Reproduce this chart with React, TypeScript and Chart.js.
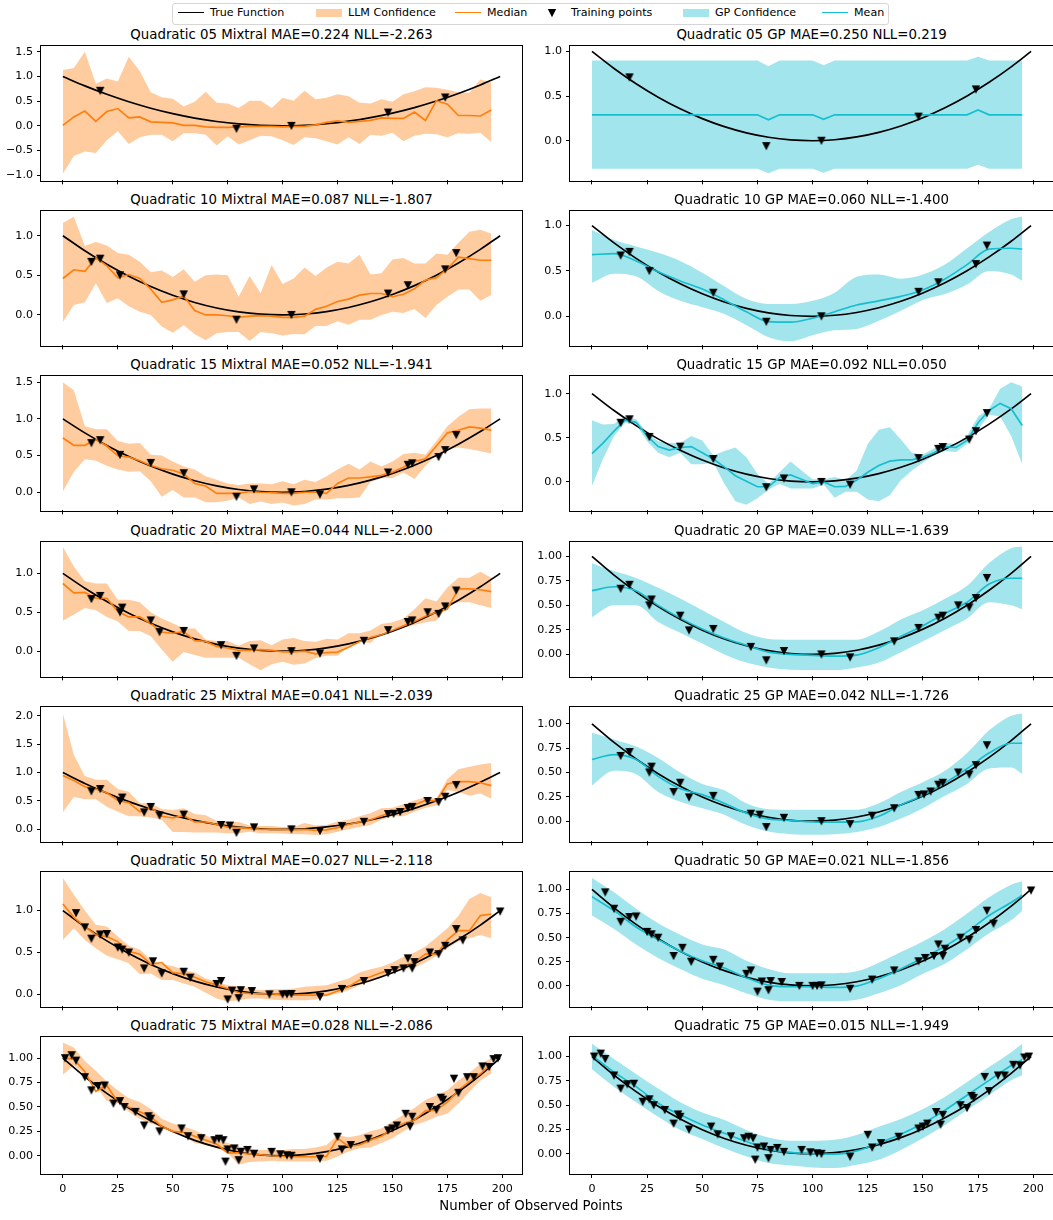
import React, { useEffect, useRef } from "react";
import { Chart, registerables } from "chart.js";

Chart.register(...registerables);

// ---------------- data ----------------
const X_GRID = [0, 5, 10, 15, 20, 25, 30, 35, 40, 45, 50, 55, 60, 65, 70, 75, 80, 85, 90, 95, 100, 105, 110, 115, 120, 125, 130, 135, 140, 145, 150, 155, 160, 165, 170, 175, 180, 185, 190, 195];
const X_GP = [0, 10, 20, 30, 40, 50, 60, 70, 80, 90, 100, 110, 120, 130, 140, 150, 160, 170, 180, 190, 195];
const X_TICKS = [0, 25, 50, 75, 100, 125, 150, 175, 200];

const TRUE_X = [0, 10, 20, 30, 40, 50, 60, 70, 80, 90, 100, 110, 120, 130, 140, 150, 160, 170, 180, 190, 199];
const TRUE_Y = [1.0, 0.8091, 0.6384, 0.4879, 0.3576, 0.2475, 0.1576, 0.0879, 0.0384, 0.0091, 0.0, 0.0111, 0.0424, 0.094, 0.1657, 0.2576, 0.3697, 0.502, 0.6546, 0.8273, 1.0];

const TITLES = [
  "Quadratic 05 Mixtral MAE=0.224 NLL=-2.263", "Quadratic 05 GP MAE=0.250 NLL=0.219",
  "Quadratic 10 Mixtral MAE=0.087 NLL=-1.807", "Quadratic 10 GP MAE=0.060 NLL=-1.400",
  "Quadratic 15 Mixtral MAE=0.052 NLL=-1.941", "Quadratic 15 GP MAE=0.092 NLL=0.050",
  "Quadratic 20 Mixtral MAE=0.044 NLL=-2.000", "Quadratic 20 GP MAE=0.039 NLL=-1.639",
  "Quadratic 25 Mixtral MAE=0.041 NLL=-2.039", "Quadratic 25 GP MAE=0.042 NLL=-1.726",
  "Quadratic 50 Mixtral MAE=0.027 NLL=-2.118", "Quadratic 50 GP MAE=0.021 NLL=-1.856",
  "Quadratic 75 Mixtral MAE=0.028 NLL=-2.086", "Quadratic 75 GP MAE=0.015 NLL=-1.949",
];

// training points
const PTS05_X = [17, 79, 104, 148, 174];
const PTS05_Y = [0.71, -0.06, 0.0, 0.27, 0.575];
const PTS10_X = [13, 17, 26, 55, 79, 104, 148, 157, 174, 179];
const PTS10_Y = [0.67, 0.71, 0.5, 0.26, -0.06, 0.0, 0.27, 0.375, 0.575, 0.78];
const PTS15_X = [13, 17, 26, 40, 55, 79, 87, 104, 117, 148, 157, 159, 171, 174, 179];
const PTS15_Y = [0.67, 0.71, 0.51, 0.4, 0.26, -0.06, 0.04, 0.0, -0.03, 0.27, 0.375, 0.395, 0.48, 0.575, 0.78];
const PTS20_X = [13, 17, 26, 27, 40, 44, 55, 72, 79, 87, 104, 117, 137, 148, 157, 159, 166, 171, 174, 179];
const PTS20_Y = [0.67, 0.71, 0.5, 0.56, 0.395, 0.245, 0.26, 0.077, -0.06, 0.035, 0.0, -0.03, 0.133, 0.27, 0.375, 0.395, 0.5, 0.48, 0.575, 0.78];
const PTS25_X = [13, 17, 26, 27, 37, 40, 44, 55, 72, 76, 79, 87, 104, 117, 127, 137, 148, 150.5, 153.5, 157, 159, 166, 171, 174, 179];
const PTS25_Y = [0.67, 0.71, 0.5, 0.56, 0.3, 0.395, 0.245, 0.26, 0.077, 0.067, -0.06, 0.035, 0.0, -0.03, 0.057, 0.133, 0.27, 0.275, 0.305, 0.375, 0.395, 0.5, 0.48, 0.575, 0.78];
const PTS50_X = [6, 10, 13, 17, 20, 25, 27, 30, 37, 41, 45, 55, 58, 70, 72, 75, 77, 80, 81, 86, 94, 100, 102, 104, 117, 127, 137, 148, 151, 155, 157, 159, 160, 167, 171, 174, 179, 182, 199];
const PTS50_Y = [0.97, 0.8, 0.665, 0.715, 0.72, 0.56, 0.535, 0.5, 0.31, 0.395, 0.25, 0.27, 0.2, 0.125, 0.16, -0.06, 0.045, -0.045, 0.05, 0.04, 0.0, 0.0, 0.0, 0.005, -0.03, 0.065, 0.16, 0.255, 0.29, 0.31, 0.43, 0.31, 0.385, 0.5, 0.48, 0.58, 0.78, 0.645, 0.99];
const PTS75_X = [1, 4, 6, 10, 13, 16, 19, 23, 26, 28, 33, 37, 39, 40, 44, 54, 57, 63, 69, 71, 73, 74, 75, 78, 80, 81, 84, 87, 95, 99, 102, 104, 117, 125, 127, 131, 139, 148, 150, 152, 156, 158, 159, 167, 170, 172, 173, 178, 180, 184, 187, 191, 194, 196, 198];
const PTS75_Y = [1.0, 1.03, 0.975, 0.805, 0.67, 0.715, 0.72, 0.535, 0.56, 0.5, 0.45, 0.31, 0.405, 0.38, 0.25, 0.28, 0.2, 0.18, 0.16, 0.175, 0.16, -0.06, 0.065, 0.075, -0.045, 0.04, 0.06, 0.02, 0.04, 0.015, 0.005, 0.0, -0.03, 0.195, 0.065, 0.11, 0.175, 0.26, 0.28, 0.31, 0.43, 0.3, 0.4, 0.5, 0.47, 0.595, 0.575, 0.79, 0.645, 0.805, 0.805, 0.915, 0.91, 0.99, 1.0];

// LLM (Mixtral) predictions on X_GRID
const MIX05_HI = [1.13, 1.17, 1.5, 0.85, 0.96, 0.9, 1.4, 1.11, 0.68, 0.58, 0.55, 0.39, 0.49, 0.69, 0.47, 0.45, 0.36, 0.51, 0.51, 0.36, 0.57, 0.51, 0.71, 0.54, 0.57, 0.64, 0.6, 0.47, 0.45, 0.54, 0.49, 0.64, 0.7, 0.78, 0.77, 0.73, 0.68, 0.67, 0.94, 0.88];
const MIX05_LO = [-0.97, -0.61, -0.52, -0.55, -0.29, -0.11, -0.37, -0.23, -0.18, -0.18, -0.31, -0.15, -0.15, -0.18, -0.4, -0.21, -0.38, -0.29, -0.2, -0.21, -0.29, -0.39, -0.23, -0.25, -0.31, -0.38, -0.23, -0.37, -0.18, -0.2, -0.14, -0.31, -0.2, -0.16, -0.17, -0.23, -0.15, -0.16, -0.14, -0.33];
const MIX05_MED = [0.01, 0.18, 0.3, 0.09, 0.29, 0.35, 0.16, 0.18, 0.08, 0.07, 0.06, 0.01, 0.01, -0.02, -0.03, -0.03, -0.02, -0.01, -0.01, -0.01, -0.02, -0.01, -0.01, 0.02, 0.07, 0.1, 0.07, 0.09, 0.11, 0.16, 0.15, 0.15, 0.28, 0.11, 0.51, 0.44, 0.21, 0.21, 0.2, 0.32];

const MIX10_HI = [1.16, 1.24, 0.87, 0.92, 0.875, 0.78, 0.76, 0.67, 0.54, 0.56, 0.48, 0.575, 0.42, 0.5, 0.51, 0.5, 0.23, 0.49, 0.275, 0.63, 0.39, 0.46, 0.6, 0.49, 0.6, 0.67, 0.65, 0.76, 0.51, 0.525, 0.7, 0.72, 0.65, 0.65, 0.775, 0.76, 0.91, 1.05, 1.075, 1.025];
const MIX10_LO = [-0.09, 0.125, 0.16, 0.4, 0.15, 0.21, 0.11, 0.04, 0.0, -0.145, -0.225, -0.13, -0.245, -0.32, -0.23, -0.215, -0.215, -0.33, -0.215, -0.23, -0.26, -0.24, -0.245, -0.14, -0.14, -0.08, -0.125, -0.06, -0.06, 0.0, 0.04, 0.025, 0.075, -0.04, 0.125, 0.23, 0.32, 0.32, 0.18, 0.25];
const MIX10_MED = [0.46, 0.57, 0.55, 0.72, 0.62, 0.47, 0.51, 0.46, 0.325, 0.16, 0.19, 0.24, 0.055, 0.0, 0.0, -0.01, -0.03, -0.015, -0.01, -0.015, -0.03, -0.03, -0.015, 0.07, 0.11, 0.17, 0.2, 0.25, 0.27, 0.27, 0.23, 0.26, 0.33, 0.44, 0.47, 0.58, 0.73, 0.71, 0.69, 0.69];

const MIX15_HI = [1.5, 1.39, 0.9, 0.86, 0.86, 0.7, 0.66, 0.67, 0.51, 0.5, 0.42, 0.35, 0.31, 0.22, 0.17, 0.12, 0.1, 0.12, 0.12, 0.11, 0.15, 0.11, 0.17, 0.14, 0.22, 0.31, 0.39, 0.31, 0.42, 0.35, 0.42, 0.52, 0.54, 0.51, 0.7, 0.9, 1.03, 1.13, 1.14, 1.14];
const MIX15_LO = [0.01, 0.28, 0.45, 0.43, 0.36, 0.31, 0.28, 0.285, 0.15, -0.06, 0.03, -0.07, -0.07, -0.135, -0.135, -0.115, -0.07, -0.16, -0.125, -0.16, -0.14, -0.18, -0.16, -0.1, -0.1, -0.08, -0.08, -0.07, 0.14, 0.19, 0.195, 0.27, 0.18, 0.36, 0.51, 0.59, 0.61, 0.59, 0.56, 0.53];
const MIX15_MED = [0.74, 0.64, 0.64, 0.72, 0.63, 0.5, 0.48, 0.43, 0.365, 0.32, 0.3, 0.25, 0.12, 0.085, -0.015, -0.015, -0.015, 0.01, 0.0, -0.005, -0.015, -0.015, 0.0, 0.0, -0.015, 0.12, 0.195, 0.195, 0.21, 0.23, 0.275, 0.34, 0.42, 0.455, 0.63, 0.81, 0.845, 0.89, 0.875, 0.845];

const MIX20_HI = [1.34, 1.09, 0.9, 0.87, 0.87, 0.66, 0.66, 0.63, 0.5, 0.42, 0.36, 0.29, 0.29, 0.15, 0.13, 0.13, 0.07, 0.13, 0.14, 0.076, 0.15, 0.17, 0.13, 0.12, 0.16, 0.15, 0.23, 0.23, 0.265, 0.35, 0.37, 0.42, 0.54, 0.68, 0.64, 0.82, 0.945, 0.945, 1.02, 0.945];
const MIX20_LO = [0.39, 0.47, 0.555, 0.525, 0.44, 0.38, 0.26, 0.26, 0.19, 0.02, -0.135, -0.01, -0.05, -0.085, -0.085, -0.085, -0.085, -0.17, -0.245, -0.17, -0.135, -0.175, -0.16, -0.09, -0.06, -0.06, 0.06, 0.125, 0.105, 0.23, 0.29, 0.3, 0.335, 0.37, 0.39, 0.575, 0.63, 0.63, 0.59, 0.555];
const MIX20_MED = [0.87, 0.75, 0.755, 0.68, 0.68, 0.51, 0.44, 0.44, 0.355, 0.245, 0.23, 0.25, 0.135, 0.125, 0.06, 0.04, 0.01, 0.01, 0.02, 0.01, -0.01, -0.01, 0.0, -0.035, -0.02, -0.012, 0.05, 0.12, 0.175, 0.21, 0.27, 0.325, 0.38, 0.45, 0.5, 0.54, 0.8, 0.8, 0.79, 0.765];

const MIX25_HI = [2.04, 1.31, 0.94, 0.875, 0.875, 0.71, 0.66, 0.46, 0.46, 0.36, 0.34, 0.37, 0.27, 0.25, 0.15, 0.13, 0.13, 0.07, 0.06, 0.06, 0.04, 0.04, 0.11, 0.07, 0.075, 0.14, 0.17, 0.23, 0.285, 0.37, 0.38, 0.44, 0.51, 0.57, 0.54, 0.885, 1.06, 1.1, 1.14, 1.17];
const MIX25_LO = [0.3, 0.57, 0.53, 0.53, 0.4, 0.31, 0.23, 0.23, 0.21, 0.17, -0.045, -0.045, -0.057, -0.057, -0.057, -0.07, -0.07, -0.04, -0.07, -0.07, -0.075, -0.085, -0.085, -0.1, -0.085, -0.04, 0.0, 0.04, 0.075, 0.17, 0.23, 0.23, 0.31, 0.38, 0.42, 0.69, 0.66, 0.59, 0.63, 0.54];
const MIX25_MED = [0.95, 0.86, 0.75, 0.71, 0.645, 0.51, 0.47, 0.31, 0.39, 0.23, 0.2, 0.245, 0.13, 0.13, 0.085, 0.04, 0.03, 0.017, 0.0, 0.0, 0.0, -0.01, 0.0, -0.017, -0.01, 0.03, 0.085, 0.13, 0.17, 0.24, 0.3, 0.355, 0.43, 0.51, 0.5, 0.8, 0.84, 0.84, 0.82, 0.77];

const MIX50_HI = [1.39, 1.19, 1.0, 0.83, 0.81, 0.69, 0.58, 0.535, 0.41, 0.36, 0.34, 0.29, 0.26, 0.19, 0.15, 0.11, 0.09, 0.07, 0.05, 0.06, 0.06, 0.07, 0.09, 0.1, 0.11, 0.15, 0.19, 0.26, 0.3, 0.33, 0.38, 0.45, 0.5, 0.57, 0.68, 0.79, 0.94, 1.14, 1.21, 1.16];
const MIX50_LO = [0.65, 0.79, 0.65, 0.55, 0.46, 0.42, 0.37, 0.24, 0.25, 0.17, 0.17, 0.13, 0.09, 0.02, -0.05, -0.085, -0.07, -0.05, -0.05, -0.06, -0.07, -0.07, -0.07, -0.06, -0.02, 0.01, 0.05, 0.11, 0.15, 0.21, 0.28, 0.3, 0.32, 0.38, 0.46, 0.55, 0.63, 0.67, 0.71, 0.67];
const MIX50_MED = [1.08, 0.92, 0.81, 0.71, 0.69, 0.63, 0.515, 0.48, 0.36, 0.38, 0.26, 0.245, 0.205, 0.15, 0.11, 0.07, 0.02, 0.01, 0.005, 0.005, 0.0, -0.01, -0.01, -0.01, -0.01, 0.04, 0.09, 0.17, 0.21, 0.26, 0.3, 0.34, 0.38, 0.48, 0.48, 0.65, 0.76, 0.76, 0.94, 0.96];

const MIX75_HI = [1.16, 1.11, 0.97, 0.87, 0.76, 0.67, 0.59, 0.55, 0.48, 0.38, 0.33, 0.3, 0.26, 0.21, 0.16, 0.13, 0.095, 0.078, 0.06, 0.06, 0.06, 0.068, 0.07, 0.085, 0.11, 0.21, 0.19, 0.21, 0.25, 0.28, 0.35, 0.42, 0.49, 0.57, 0.62, 0.67, 0.77, 0.85, 0.94, 1.0];
const MIX75_LO = [0.83, 0.925, 0.83, 0.72, 0.56, 0.55, 0.45, 0.38, 0.33, 0.29, 0.25, 0.2, 0.13, 0.11, 0.078, 0.027, -0.09, -0.065, -0.058, -0.05, -0.058, -0.058, -0.058, -0.058, -0.05, -0.007, 0.044, 0.078, 0.085, 0.13, 0.18, 0.25, 0.315, 0.35, 0.4, 0.43, 0.535, 0.655, 0.77, 0.84];
const MIX75_MED = [1.0, 0.99, 0.86, 0.66, 0.72, 0.55, 0.5, 0.45, 0.4, 0.3, 0.25, 0.24, 0.2, 0.16, 0.12, 0.03, 0.03, 0.02, 0.01, 0.0, -0.005, -0.01, -0.01, -0.01, -0.007, 0.18, 0.095, 0.11, 0.16, 0.2, 0.28, 0.33, 0.365, 0.46, 0.47, 0.55, 0.67, 0.76, 0.84, 0.94];

// GP predictions
const GP05_MEAN = [0.29, 0.29, 0.29, 0.29, 0.29, 0.29, 0.29, 0.29, 0.29, 0.29, 0.29, 0.29, 0.29, 0.29, 0.29, 0.29, 0.235, 0.29, 0.29, 0.29, 0.29, 0.24, 0.29, 0.29, 0.29, 0.29, 0.29, 0.29, 0.29, 0.29, 0.29, 0.29, 0.29, 0.29, 0.29, 0.345, 0.29, 0.29, 0.29, 0.29];
const GP05_HI = [0.9, 0.9, 0.9, 0.9, 0.9, 0.9, 0.9, 0.9, 0.9, 0.9, 0.9, 0.9, 0.9, 0.9, 0.9, 0.9, 0.835, 0.9, 0.9, 0.9, 0.9, 0.845, 0.9, 0.9, 0.9, 0.9, 0.9, 0.9, 0.9, 0.9, 0.9, 0.9, 0.9, 0.9, 0.9, 0.94, 0.9, 0.9, 0.9, 0.9];
const GP05_LO = [-0.315, -0.315, -0.315, -0.315, -0.315, -0.315, -0.315, -0.315, -0.315, -0.315, -0.315, -0.315, -0.315, -0.315, -0.315, -0.315, -0.365, -0.315, -0.315, -0.315, -0.315, -0.36, -0.315, -0.315, -0.315, -0.315, -0.315, -0.315, -0.315, -0.315, -0.315, -0.315, -0.315, -0.315, -0.315, -0.27, -0.315, -0.315, -0.315, -0.315];

const GP10_MEAN = [0.68, 0.69, 0.61, 0.49, 0.39, 0.3, 0.18, 0.05, -0.058, -0.065, -0.02, 0.05, 0.125, 0.17, 0.22, 0.29, 0.41, 0.57, 0.74, 0.75, 0.74];
const GP10_HI = [0.95, 0.84, 0.77, 0.7, 0.61, 0.48, 0.33, 0.19, 0.135, 0.135, 0.17, 0.26, 0.435, 0.46, 0.415, 0.46, 0.57, 0.75, 0.93, 1.07, 1.1];
const GP10_LO = [0.37, 0.47, 0.44, 0.28, 0.17, 0.1, 0.025, -0.1, -0.23, -0.275, -0.21, -0.155, -0.14, -0.05, 0.06, 0.18, 0.245, 0.35, 0.5, 0.46, 0.39];

const GP15_MEAN = [0.32, 0.44, 0.575, 0.7, 0.675, 0.52, 0.4, 0.36, 0.39, 0.4, 0.33, 0.26, 0.17, 0.07, 0.007, -0.055, -0.055, 0.05, 0.08, 0.03, -0.02, 0.0, -0.055, -0.05, 0.02, 0.11, 0.185, 0.235, 0.25, 0.25, 0.28, 0.33, 0.4, 0.39, 0.47, 0.67, 0.81, 0.89, 0.83, 0.64];
const GP15_HI = [0.7, 0.65, 0.655, 0.74, 0.71, 0.56, 0.46, 0.44, 0.44, 0.52, 0.47, 0.3, 0.35, 0.39, 0.28, 0.09, -0.02, 0.11, 0.23, 0.13, 0.03, 0.03, 0.055, 0.02, 0.13, 0.43, 0.59, 0.62, 0.48, 0.33, 0.31, 0.38, 0.44, 0.43, 0.52, 0.74, 0.83, 1.055, 1.13, 1.08];
const GP15_LO = [-0.045, 0.26, 0.52, 0.667, 0.65, 0.46, 0.33, 0.28, 0.33, 0.2, 0.2, 0.22, -0.02, -0.22, -0.26, -0.185, -0.09, -0.02, -0.075, -0.075, -0.075, -0.03, -0.18, -0.11, -0.11, -0.2, -0.22, -0.15, 0.02, 0.13, 0.22, 0.3, 0.35, 0.34, 0.43, 0.59, 0.76, 0.74, 0.52, 0.2];

const GP20_MEAN = [0.65, 0.69, 0.65, 0.5, 0.37, 0.26, 0.167, 0.093, 0.023, 0.0, -0.01, -0.017, -0.007, 0.067, 0.183, 0.293, 0.417, 0.533, 0.717, 0.777, 0.777];
const GP20_HI = [0.93, 0.85, 0.78, 0.68, 0.57, 0.45, 0.33, 0.217, 0.157, 0.15, 0.15, 0.15, 0.15, 0.233, 0.357, 0.45, 0.567, 0.7, 0.933, 1.083, 1.1];
const GP20_LO = [0.38, 0.5, 0.5, 0.33, 0.22, 0.11, 0.0, -0.083, -0.133, -0.157, -0.16, -0.16, -0.133, -0.083, 0.023, 0.133, 0.25, 0.367, 0.533, 0.5, 0.46];

const GP25_MEAN = [0.633, 0.683, 0.633, 0.46, 0.333, 0.273, 0.183, 0.083, 0.023, 0.007, -0.007, -0.01, -0.007, 0.05, 0.167, 0.267, 0.393, 0.54, 0.7, 0.8, 0.8];
const GP25_HI = [0.907, 0.84, 0.767, 0.65, 0.5, 0.383, 0.317, 0.183, 0.123, 0.117, 0.117, 0.117, 0.117, 0.183, 0.3, 0.4, 0.517, 0.7, 0.933, 1.083, 1.107];
const GP25_LO = [0.367, 0.517, 0.483, 0.3, 0.2, 0.133, 0.067, -0.04, -0.107, -0.133, -0.14, -0.133, -0.11, -0.06, 0.027, 0.133, 0.26, 0.383, 0.54, 0.55, 0.483];

const GP50_MEAN = [0.926, 0.78, 0.61, 0.48, 0.36, 0.26, 0.185, 0.084, 0.007, -0.01, -0.01, -0.017, -0.003, 0.074, 0.175, 0.29, 0.41, 0.56, 0.73, 0.865, 0.94];
const GP50_HI = [1.12, 0.97, 0.8, 0.65, 0.53, 0.43, 0.377, 0.26, 0.175, 0.13, 0.13, 0.13, 0.15, 0.24, 0.35, 0.46, 0.59, 0.75, 0.92, 1.05, 1.085];
const GP50_LO = [0.73, 0.59, 0.43, 0.29, 0.175, 0.074, 0.007, -0.077, -0.145, -0.16, -0.16, -0.16, -0.145, -0.077, 0.007, 0.125, 0.23, 0.38, 0.545, 0.68, 0.78];

const GP75_MEAN = [1.01, 0.84, 0.69, 0.52, 0.4, 0.296, 0.21, 0.126, 0.048, 0.014, 0.0, -0.003, 0.03, 0.109, 0.2, 0.313, 0.449, 0.602, 0.755, 0.908, 0.97];
const GP75_HI = [1.13, 0.975, 0.82, 0.67, 0.53, 0.425, 0.347, 0.245, 0.167, 0.133, 0.133, 0.143, 0.194, 0.279, 0.357, 0.459, 0.585, 0.738, 0.891, 1.044, 1.13];
const GP75_LO = [0.87, 0.69, 0.53, 0.38, 0.245, 0.153, 0.058, -0.027, -0.095, -0.12, -0.14, -0.146, -0.112, -0.061, 0.04, 0.16, 0.296, 0.449, 0.602, 0.755, 0.806];

// y tick labels
const YT_A = [-1.0, -0.5, 0.0, 0.5, 1.0, 1.5];
const YT_B = [0.0, 0.5, 1.0];
const YT_C = [0.0, 0.5, 1.0, 1.5];
const YT_D = [0.0, 0.25, 0.5, 0.75, 1.0];
const YT_E = [0.0, 0.5, 1.0, 1.5, 2.0];

// ---------------- styles / layout ----------------
const FONT = '"DejaVu Sans", Verdana, sans-serif';
const ORANGE = "#ff7f0e";
const ORANGE_BAND = "rgba(255,127,14,0.4)";
const CYAN = "#17becf";
const CYAN_BAND = "rgba(23,190,207,0.4)";

const COL_LEFT = [41, 570];
const COL_W = [481, 483];
const ROW_TOP = [45, 210, 375, 541, 706, 871, 1036];
const PLOT_H = 138;

type Spec = {
  row: number; col: number; title: string;
  bx: number[]; lo: number[]; hi: number[]; mid: number[]; smooth: boolean;
  px: number[]; py: number[];
  yMin: number; yMax: number; yTicks: number[]; dec: number; gp: boolean;
};

const PANELS: Spec[] = [
  { row: 0, col: 0, title: TITLES[0], bx: X_GRID, lo: MIX05_LO, hi: MIX05_HI, mid: MIX05_MED, smooth: false, px: PTS05_X, py: PTS05_Y, yMin: -1.104, yMax: 1.624, yTicks: YT_A, dec: 1, gp: false },
  { row: 0, col: 1, title: TITLES[1], bx: X_GRID, lo: GP05_LO, hi: GP05_HI, mid: GP05_MEAN, smooth: false, px: PTS05_X, py: PTS05_Y, yMin: -0.444, yMax: 1.065, yTicks: YT_B, dec: 1, gp: true },
  { row: 1, col: 0, title: TITLES[2], bx: X_GRID, lo: MIX10_LO, hi: MIX10_HI, mid: MIX10_MED, smooth: false, px: PTS10_X, py: PTS10_Y, yMin: -0.384, yMax: 1.316, yTicks: YT_B, dec: 1, gp: false },
  { row: 1, col: 1, title: TITLES[3], bx: X_GP, lo: GP10_LO, hi: GP10_HI, mid: GP10_MEAN, smooth: true, px: PTS10_X, py: PTS10_Y, yMin: -0.32, yMax: 1.164, yTicks: YT_B, dec: 1, gp: true },
  { row: 2, col: 0, title: TITLES[4], bx: X_GRID, lo: MIX15_LO, hi: MIX15_HI, mid: MIX15_MED, smooth: false, px: PTS15_X, py: PTS15_Y, yMin: -0.246, yMax: 1.589, yTicks: YT_C, dec: 1, gp: false },
  { row: 2, col: 1, title: TITLES[5], bx: X_GRID, lo: GP15_LO, hi: GP15_HI, mid: GP15_MEAN, smooth: false, px: PTS15_X, py: PTS15_Y, yMin: -0.322, yMax: 1.204, yTicks: YT_B, dec: 1, gp: true },
  { row: 3, col: 0, title: TITLES[6], bx: X_GRID, lo: MIX20_LO, hi: MIX20_HI, mid: MIX20_MED, smooth: false, px: PTS20_X, py: PTS20_Y, yMin: -0.324, yMax: 1.408, yTicks: YT_B, dec: 1, gp: false },
  { row: 3, col: 1, title: TITLES[7], bx: X_GP, lo: GP20_LO, hi: GP20_HI, mid: GP20_MEAN, smooth: true, px: PTS20_X, py: PTS20_Y, yMin: -0.224, yMax: 1.15, yTicks: YT_D, dec: 2, gp: true },
  { row: 4, col: 0, title: TITLES[8], bx: X_GRID, lo: MIX25_LO, hi: MIX25_HI, mid: MIX25_MED, smooth: false, px: PTS25_X, py: PTS25_Y, yMin: -0.211, yMax: 2.16, yTicks: YT_E, dec: 1, gp: false },
  { row: 4, col: 1, title: TITLES[9], bx: X_GP, lo: GP25_LO, hi: GP25_HI, mid: GP25_MEAN, smooth: true, px: PTS25_X, py: PTS25_Y, yMin: -0.207, yMax: 1.176, yTicks: YT_D, dec: 2, gp: true },
  { row: 5, col: 0, title: TITLES[10], bx: X_GRID, lo: MIX50_LO, hi: MIX50_HI, mid: MIX50_MED, smooth: false, px: PTS50_X, py: PTS50_Y, yMin: -0.143, yMax: 1.465, yTicks: YT_B, dec: 1, gp: false },
  { row: 5, col: 1, title: TITLES[11], bx: X_GP, lo: GP50_LO, hi: GP50_HI, mid: GP50_MEAN, smooth: true, px: PTS50_X, py: PTS50_Y, yMin: -0.213, yMax: 1.185, yTicks: YT_D, dec: 2, gp: true },
  { row: 6, col: 0, title: TITLES[12], bx: X_GRID, lo: MIX75_LO, hi: MIX75_HI, mid: MIX75_MED, smooth: false, px: PTS75_X, py: PTS75_Y, yMin: -0.187, yMax: 1.22, yTicks: YT_D, dec: 2, gp: false },
  { row: 6, col: 1, title: TITLES[13], bx: X_GP, lo: GP75_LO, hi: GP75_HI, mid: GP75_MEAN, smooth: true, px: PTS75_X, py: PTS75_Y, yMin: -0.208, yMax: 1.204, yTicks: YT_D, dec: 2, gp: true },
];

let TRI: HTMLCanvasElement | null = null;
function triangleMarker(): HTMLCanvasElement {
  if (!TRI) {
    const c = document.createElement("canvas");
    c.width = 10;
    c.height = 10;
    const g = c.getContext("2d")!;
    g.fillStyle = "#000";
    g.beginPath();
    g.moveTo(0.8, 1);
    g.lineTo(9.2, 1);
    g.lineTo(5, 9.2);
    g.closePath();
    g.fill();
    TRI = c;
  }
  return TRI;
}

const framePlugin = {
  id: "frame",
  afterDatasetsDraw(chart: any) {
    const { ctx, chartArea } = chart;
    const { left, top, right, bottom } = chartArea;
    ctx.save();
    ctx.strokeStyle = "#000";
    ctx.lineWidth = 1;
    ctx.strokeRect(Math.round(left) - 0.5, Math.round(top) - 0.5, Math.round(right - left) + 1, Math.round(bottom - top) + 1);
    ctx.restore();
  },
};

const fmt = (v: number, dec: number) => v.toFixed(dec).replace("-", "\u2212");
const xy = (xs: number[], ys: number[]) => xs.map((x, i) => ({ x, y: ys[i] }));

const YW = 45;
const PT = 10;
const PR = 6;

function Panel({ s }: { s: Spec }) {
  const ref = useRef<HTMLCanvasElement>(null);
  const L = COL_LEFT[s.col];
  const W = COL_W[s.col];
  const T = ROW_TOP[s.row];
  const bottom = s.row === 6;
  const XH = bottom ? 26 : 8;
  const cw = YW + W + PR;
  const ch = PT + PLOT_H + XH;

  useEffect(() => {
    const color = s.gp ? CYAN : ORANGE;
    const band = s.gp ? CYAN_BAND : ORANGE_BAND;
    const interp = s.smooth ? "monotone" : "default";
    const tickFont = { family: FONT, size: 11.1 };
    const grid = { drawOnChartArea: false, drawTicks: true, tickLength: 4, color: "#000", tickColor: "#000", lineWidth: 1 };
    const chart = new Chart(ref.current!, {
      type: "line",
      data: {
        datasets: [
          { data: xy(s.bx, s.lo), borderWidth: 0, borderColor: "rgba(0,0,0,0)", pointRadius: 0, fill: false, cubicInterpolationMode: interp, order: 10 },
          { data: xy(s.bx, s.hi), borderWidth: 0, borderColor: "rgba(0,0,0,0)", pointRadius: 0, fill: 0, backgroundColor: band, cubicInterpolationMode: interp, order: 9 },
          { data: xy(TRUE_X, TRUE_Y), borderColor: "#000", borderWidth: 1.67, pointRadius: 0, fill: false, cubicInterpolationMode: "monotone", order: 3 },
          { data: xy(s.bx, s.mid), borderColor: color, borderWidth: 1.67, pointRadius: 0, fill: false, cubicInterpolationMode: interp, order: 2 },
          { data: xy(s.px, s.py), showLine: false, pointStyle: triangleMarker(), pointRadius: 4, fill: false, order: 1 },
        ],
      } as any,
      options: {
        responsive: false,
        maintainAspectRatio: false,
        animation: false,
        events: [],
        layout: { padding: { top: PT, right: PR, bottom: 0, left: 0 } },
        plugins: { legend: { display: false }, tooltip: { enabled: false }, title: { display: false } },
        scales: {
          x: {
            type: "linear",
            min: -9.95,
            max: 208.95,
            bounds: "data",
            afterBuildTicks: (sc: any) => { sc.ticks = X_TICKS.map((v) => ({ value: v })); },
            afterFit: (sc: any) => { sc.height = XH; },
            grid,
            border: { display: false },
            ticks: { display: bottom, font: tickFont, color: "#000", padding: 4, maxRotation: 0, autoSkip: false, callback: (v: any) => String(v) },
          },
          y: {
            type: "linear",
            min: s.yMin,
            max: s.yMax,
            bounds: "data",
            afterBuildTicks: (sc: any) => { sc.ticks = s.yTicks.map((v) => ({ value: v })); },
            afterFit: (sc: any) => { sc.width = YW; },
            grid,
            border: { display: false },
            ticks: { font: tickFont, color: "#000", padding: 4, autoSkip: false, callback: (v: any) => fmt(Number(v), s.dec) },
          },
        },
      } as any,
      plugins: [framePlugin],
    });
    return () => chart.destroy();
  }, []);

  return (
    <>
      <div style={{ position: "absolute", left: L, top: T - 18, width: W, height: 16, lineHeight: "16px", textAlign: "center", fontFamily: FONT, fontSize: 13.33, color: "#000", whiteSpace: "nowrap" }}>{s.title}</div>
      <canvas ref={ref} width={cw} height={ch} style={{ position: "absolute", left: L - YW, top: T - PT, width: cw, height: ch }} />
    </>
  );
}

const LEGEND_ITEMS = [
  { label: "True Function", kind: "line", color: "#000", x: 178 },
  { label: "LLM Confidence", kind: "patch", color: ORANGE_BAND, x: 316 },
  { label: "Median", kind: "line", color: ORANGE, x: 455 },
  { label: "Training points", kind: "marker", color: "#000", x: 539 },
  { label: "GP Confidence", kind: "patch", color: CYAN_BAND, x: 683 },
  { label: "Mean", kind: "line", color: CYAN, x: 822 },
];

function Legend() {
  return (
    <>
      <div style={{ position: "absolute", left: 172, top: 3, width: 715, height: 20, border: "1px solid #d6d6d6", borderRadius: 3, background: "#fff" }} />
      {LEGEND_ITEMS.map((it) => (
        <React.Fragment key={it.label}>
          {it.kind === "line" && <div style={{ position: "absolute", left: it.x, top: 12.2, width: 26, height: 0, borderTop: `1.67px solid ${it.color}` }} />}
          {it.kind === "patch" && <div style={{ position: "absolute", left: it.x, top: 9, width: 26, height: 8, background: it.color }} />}
          {it.kind === "marker" && (
            <svg style={{ position: "absolute", left: it.x + 8, top: 8 }} width={10} height={10}>
              <polygon points="0.8,1 9.2,1 5,9.2" fill="#000" />
            </svg>
          )}
          <div style={{ position: "absolute", left: it.x + 32, top: 5, height: 16, lineHeight: "16px", fontFamily: FONT, fontSize: 11.1, color: "#000", whiteSpace: "nowrap" }}>{it.label}</div>
        </React.Fragment>
      ))}
    </>
  );
}

export default function App() {
  return (
    <div style={{ position: "absolute", left: 0, top: 0, width: 1053, height: 1220, overflow: "hidden", background: "#fff" }}>
      <Legend />
      {PANELS.map((s) => (
        <Panel key={s.title} s={s} />
      ))}
      <div style={{ position: "absolute", left: 331, top: 1198, width: 400, height: 16, lineHeight: "16px", textAlign: "center", fontFamily: FONT, fontSize: 13.33, color: "#000" }}>Number of Observed Points</div>
    </div>
  );
}
